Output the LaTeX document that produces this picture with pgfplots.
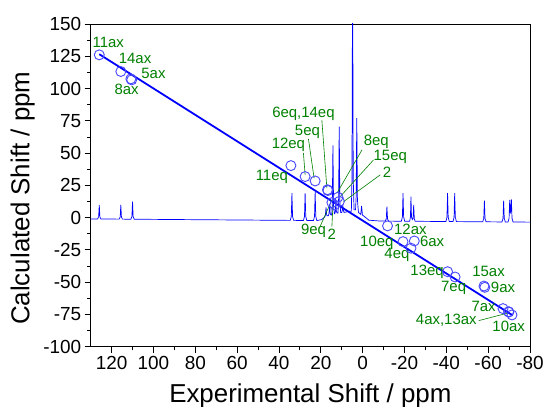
\documentclass[border=0pt]{standalone}
\usepackage{fontspec}
\setmainfont{Liberation Sans}
\usepackage{pgfplots}
\pgfplotsset{compat=1.18}
\definecolor{lgreen}{RGB}{0,128,0}
\definecolor{cblue}{RGB}{70,70,255}
\tikzset{
  lab/.style={text=lgreen, font=\fontsize{15}{18}\selectfont, inner sep=0pt, anchor=center},
  ldr/.style={lgreen, line width=0.6bp},
}
\begin{document}
\begin{tikzpicture}
\begin{axis}[
  name=ax,
  scale only axis, width=439.3bp, height=322.7bp,
  x dir=reverse, xmin=-80, xmax=130, ymin=-100, ymax=150,
  xtick={120,100,...,-80}, ytick={-100,-75,...,150},
  minor x tick num=1, minor y tick num=1,
  tick align=outside, xtick pos=bottom, ytick pos=left,
  major tick length=6bp, minor tick length=3.5bp,
  tick style={black, line width=0.8bp},
  axis line style={line width=0.8bp},
  /pgf/number format/assume math mode=true,
  tick label style={font=\fontsize{19}{22}\selectfont},
  label style={font=\fontsize{26}{30}\selectfont},
  xlabel={Experimental Shift / ppm}, ylabel={Calculated Shift / ppm},
  xlabel style={yshift=-7bp},
  ylabel style={at={(axis description cs:-0.155,0.46)}, anchor=center},
]
% spectrum
\addplot[blue, line width=0.7bp, mark=none] coordinates {
(130,-1.0)
(126.7,-1.05) (126.2,0.6) (125.9,9.8) (125.6,0.6) (125.1,-1.05)
(116.4,-1.17) (115.9,0.5) (115.6,9.8) (115.3,0.5) (114.8,-1.17)
(110.8,-1.24) (110.3,0.8) (110.0,12.4) (109.7,0.8) (109.2,-1.24)
(80,-1.6) (60,-1.83) (40,-2.07)
(34.6,-2.14) (34.1,0.9) (33.8,18.9) (33.5,0.9) (33.0,-2.14)
(28.3,-2.2) (27.8,0.9) (27.5,18.9) (27.2,0.9) (26.7,-2.2)
(23.5,-2.27) (23.0,1.0) (22.7,20) (22.4,1.0) (21.9,-2.27)
(19.5,-1.5) (18.5,0)
(18.1,0.5) (17.8,2) (17.5,8) (17.2,2) (16.9,1.5)
(16.4,1.5) (16.1,3) (15.8,10) (15.5,3) (15.1,2)
(14.8,2) (14.5,9) (14.2,56) (13.9,9) (13.5,3)
(13.3,3) (13.0,5) (12.8,14) (12.6,5) (12.2,3.5)
(11.8,3.5) (11.5,13) (11.2,70.5) (10.9,13) (10.5,4)
(10.0,4) (9.7,6) (9.5,10) (9.3,6) (8.9,4)
(7.5,4.5) (6,5)
(5.4,5) (5.1,30) (4.8,200) (4.5,30) (4.1,6)
(3.4,6) (3.1,16) (2.8,77) (2.5,14) (2.0,4)
(1.2,3) (0.9,2.5) (0.5,9) (0.1,2)
(-1.5,0) (-3,-2.0) (-8,-2.62)
(-10.8,-2.69) (-11.3,-1.0) (-11.6,8.5) (-11.9,-1.0) (-12.4,-2.7)
(-18.5,-2.79) (-19.0,0.5) (-19.3,18.9) (-19.6,0.5) (-20.1,-2.79)
(-22.5,-2.83) (-22.85,0.5) (-23.1,16.3) (-23.35,0.5) (-23.75,-1.5)
(-24.1,-0.5) (-24.4,9.8) (-24.7,-1) (-25.1,-2.85)
(-30,-2.9)
(-39.8,-3.02) (-40.3,0.3) (-40.6,18.9) (-40.9,0.3) (-41.4,-3.03)
(-43.2,-3.07) (-43.7,0.3) (-44.0,18.9) (-44.3,0.3) (-44.8,-3.08)
(-57.4,-3.24) (-57.9,-0.6) (-58.2,13.2) (-58.5,-0.6) (-59.0,-3.25)
(-66.6,-3.35) (-67.1,-0.7) (-67.4,13.2) (-67.7,-0.7) (-68.2,-3.36)
(-69.5,-3.38) (-70.0,-0.5) (-70.3,13.7) (-70.6,4) (-70.8,5) (-71.1,14.2) (-71.4,-0.5) (-71.9,-3.4)
(-80,-3.5)
};
% fit line
\addplot[blue, line width=1.8bp, mark=none] coordinates {(125.9,126.6) (-71.4,-75.4)};
% calculated vs experimental
\addplot[only marks, mark=o, mark size=5bp, draw=cblue, mark options={line width=0.9bp}] coordinates {
(125.9,126.1) (115.6,113.2) (110.4,106.7) (110.8,107.5)
(34.3,40.3) (27.5,31.8) (22.7,28.4) (16.8,21.6) (16.6,21.0)
(11.8,15.8) (11.1,12.6) (14.7,11.6) (13.4,9.8)
(-11.9,-6.4) (-19.3,-18.6) (-24.7,-18.1) (-23.1,-23.7)
(-40.6,-41.9) (-44.2,-46.0) (-58.0,-53.0) (-58.4,-54.0)
(-67.1,-70.5) (-69.8,-72.9) (-69.9,-73.2) (-71.4,-75.4)
};
% leader lines
\draw[ldr] (axis cs:28.3,49.9) -- (axis cs:27.5,33.2);
\draw[ldr] (axis cs:25.9,60.8) -- (axis cs:23.2,30.5);
\draw[ldr] (axis cs:19.5,75.7) -- (axis cs:17.1,22.8);
\draw[ldr] (axis cs:0.3,52.5) -- (axis cs:12.3,18.9);
\draw[ldr] (axis cs:-5.2,44.7) -- (axis cs:10.7,16.3);
\draw[ldr] (axis cs:-8.4,33.1) -- (axis cs:9.1,12.4);
\draw[ldr] (axis cs:20.3,-6.7) -- (axis cs:14.7,13.7);
\draw[ldr] (axis cs:14.7,-7.0) -- (axis cs:14.2,9.8);
\draw[ldr] (axis cs:-55.5,-79.8) -- (axis cs:-69.0,-74.1);
% labels
\node[lab] at (axis cs:121.6,136.0) {11ax};
\node[lab] at (axis cs:108.8,123.6) {14ax};
\node[lab] at (axis cs:100.0,111.4) {5ax};
\node[lab] at (axis cs:112.8,99.0) {8ax};
\node[lab] at (axis cs:28.3,80.4) {6eq,14eq};
\node[lab] at (axis cs:26.4,66.7) {5eq};
\node[lab] at (axis cs:35.5,56.4) {12eq};
\node[lab] at (axis cs:43.4,31.3) {11eq};
\node[lab] at (axis cs:-6.5,58.9) {8eq};
\node[lab] at (axis cs:-13.2,47.3) {15eq};
\node[lab] at (axis cs:-11.6,34.9) {2};
\node[lab] at (axis cs:23.5,-10.1) {9eq};
\node[lab] at (axis cs:14.7,-12.6) {2};
\node[lab] at (axis cs:-22.8,-9.0) {12ax};
\node[lab] at (axis cs:-6.8,-19.4) {10eq};
\node[lab] at (axis cs:-33.2,-18.6) {6ax};
\node[lab] at (axis cs:-16.4,-28.9) {4eq};
\node[lab] at (axis cs:-30.8,-41.9) {13eq};
\node[lab] at (axis cs:-43.5,-54.7) {7eq};
\node[lab] at (axis cs:-60.2,-41.9) {15ax};
\node[lab] at (axis cs:-67.1,-54.0) {9ax};
\node[lab] at (axis cs:-57.8,-69.0) {7ax};
\node[lab] at (axis cs:-40.0,-79.8) {4ax,13ax};
\node[lab] at (axis cs:-69.8,-84.5) {10ax};
\end{axis}
\pgfresetboundingbox
\path ([shift={(-90.7bp,-60.3bp)}]ax.south west) rectangle ([shift={(15bp,24bp)}]ax.north east);
\end{tikzpicture}
\end{document}
